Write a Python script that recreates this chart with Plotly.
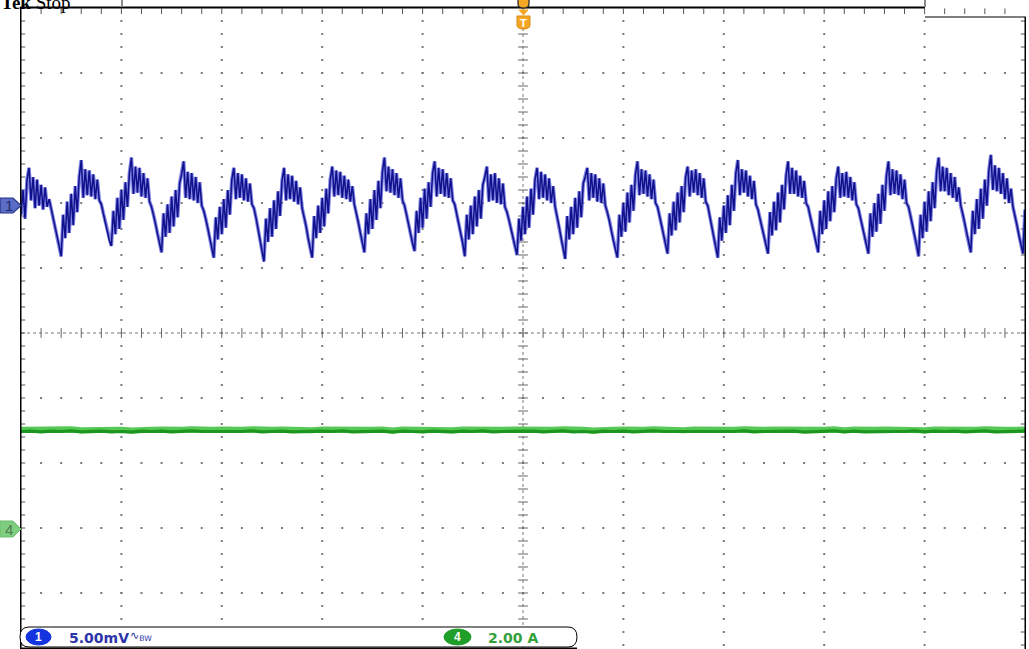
import numpy as np
import plotly.graph_objects as go

# ---------------- figure geometry ----------------
W, H = 1029, 649
ML, MR, MT, MB = 21, 4, 8, 0
PW, PH = W - ML - MR, H - MT - MB
PX_PER_YDIV = 65.0
X_RANGE = [0.0, 10.0]
Y_TOP = 5.0
Y_BOT = Y_TOP - PH / PX_PER_YDIV

# ---------------- channel settings ----------------
CH1_SCALE_MV = 5.00      # mV / div
CH1_OFFSET_DIV = 2.0     # ground marker position (div above centre)
CH4_SCALE_A = 2.00       # A / div
CH4_OFFSET_DIV = -3.0
CH1_DT_DIV = 0.02        # sample interval (div)
CH4_DT_DIV = 0.1

# ---------------- data ----------------
# Channel 1 ripple voltage, mV
ch1_mv = [
    -0.9, 1.0, -1.2, 1.8, 2.7, 0.2, 2.0, -0.4, 1.8, -0.2, 1.4, -0.5, 1.2, -0.3, 0.3, -0.4, -1.0, -1.7, -2.5, -3.3,
    -4.1, -0.9, -2.7, 0.1, -2.3, 0.7, -1.7, 1.3, -0.7, 2.0, 3.3, 0.4, 2.6, 0.6, 2.5, 0.5, 2.2, 0.3, 1.8, 0.2, -0.1, -0.8, -1.5, -2.2, -2.9,
    -3.3, -0.6, -2.4, 0.4, -2.0, 1.0, -1.3, 1.6, -0.3, 2.3, 3.5, 0.7, 2.8, 0.8, 2.7, 0.5, 2.3, 0.4, 1.9, 0.1, -0.3, -0.9, -1.6, -2.4, -3.0,
    -3.8, -0.8, -2.6, -0.1, -2.3, 0.5, -1.8, 1.0, -1.1, 1.5, 2.2, 3.2, 0.4, 2.4, 0.3, 2.3, 0.2, 2.0, 0.0, 1.6, -0.2, -0.6, -1.2, -1.9, -2.7, -3.4,
    -4.2, -1.1, -2.8, -0.3, -2.4, 0.3, -1.9, 1.0, -0.9, 1.8, 2.7, 0.3, 2.3, 0.4, 2.2, 0.2, 1.9, 0.1, 1.5, -0.1, -0.4, -1.1, -1.9, -2.8, -3.6,
    -4.5, -1.2, -3.0, -0.4, -2.6, 0.2, -2.0, 0.9, -1.0, 1.7, 2.7, 0.2, 2.2, 0.3, 2.1, 0.1, 1.7, -0.1, 1.2, -0.4, -1.0, -1.8, -2.7, -3.5,
    -4.2, -1.0, -2.7, -0.2, -2.3, 0.4, -1.8, 1.1, -0.8, 1.8, 2.8, 0.5, 2.5, 0.6, 2.4, 0.4, 2.1, 0.3, 1.8, 0.1, 1.3, -0.1, -0.7, -1.5, -2.3, -3.1,
    -3.8, -0.8, -2.4, 0.3, -2.0, 1.0, -1.3, 1.7, -0.4, 2.4, 3.5, 0.9, 2.8, 0.8, 2.6, 0.6, 2.3, 0.4, 1.9, 0.2, -0.2, -0.9, -1.7, -2.4, -3.1,
    -3.7, -0.6, -2.3, 0.4, -1.9, 1.1, -1.2, 1.6, -0.3, 2.3, 3.2, 0.5, 2.7, 0.7, 2.6, 0.5, 2.3, 0.4, 1.9, 0.2, -0.1, -0.8, -1.6, -2.3, -3.1,
    -4.1, -0.9, -2.8, -0.2, -2.4, 0.5, -1.8, 1.0, -1.2, 1.4, 2.0, 2.8, 0.1, 2.2, 0.2, 2.3, 0.0, 1.9, -0.1, 1.5, -0.3, -0.7, -1.3, -2.0, -2.8, -3.4,
    -4.0, -1.2, -2.9, -0.3, -2.4, 0.5, -1.9, 1.1, -0.9, 1.8, 2.7, 0.3, 2.4, 0.4, 2.2, 0.2, 1.9, 0.0, 1.3, -0.3, -1.0, -1.8, -2.7, -3.5,
    -4.3, -1.0, -2.8, -0.3, -2.4, 0.4, -1.9, 0.9, -1.1, 1.5, 2.0, 2.7, 0.2, 2.3, 0.4, 2.2, 0.1, 1.9, 0.0, 1.5, -0.2, -0.7, -1.3, -2.1, -2.9, -3.6,
    -4.2, -0.9, -2.6, 0.0, -2.2, 0.8, -1.5, 1.4, -0.6, 2.2, 3.2, 0.6, 2.6, 0.7, 2.5, 0.5, 2.2, 0.3, 1.8, 0.0, -0.3, -1.0, -1.7, -2.5, -3.2,
    -3.9, -0.8, -2.5, 0.1, -2.1, 0.8, -1.5, 1.3, -0.7, 2.0, 2.8, 0.5, 2.5, 0.8, 2.6, 0.6, 2.3, 0.4, 1.9, 0.1, -0.2, -1.0, -1.7, -2.6, -3.4,
    -4.2, -1.1, -2.9, -0.2, -2.3, 0.6, -1.7, 1.4, -0.6, 2.3, 3.3, 0.6, 2.6, 0.8, 2.5, 0.5, 2.1, 0.3, 1.7, -0.1, -0.5, -1.2, -1.9, -2.7, -3.3,
    -3.9, -0.7, -2.5, 0.1, -2.1, 0.8, -1.5, 1.4, -0.5, 2.1, 3.2, 0.7, 2.7, 0.7, 2.5, 0.5, 2.1, 0.4, 1.7, 0.0, -0.3, -1.0, -1.6, -2.4, -3.1,
    -3.8, -0.6, -2.4, 0.2, -2.0, 0.9, -1.4, 1.3, -0.7, 1.9, 2.8, 0.4, 2.3, 0.5, 2.4, 0.4, 2.0, 0.2, 1.6, -0.1, -0.4, -1.1, -1.8, -2.6, -3.2,
    -3.9, -0.8, -2.6, 0.0, -2.2, 0.7, -1.6, 1.4, -0.6, 2.1, 3.2, 0.6, 2.6, 0.7, 2.5, 0.6, 2.2, 0.3, 1.8, 0.0, -0.3, -1.0, -1.7, -2.5, -3.2,
    -4.1, -0.9, -2.7, 0.1, -2.2, 0.9, -1.4, 1.6, -0.4, 2.4, 3.5, 0.9, 2.8, 0.9, 2.7, 0.6, 2.3, 0.4, 2.0, 0.1, 1.2, -0.2, -0.8, -1.6, -2.4, -3.1,
    -3.8, -0.6, -2.4, 0.3, -2.0, 1.1, -1.2, 1.8, -0.2, 2.5, 3.7, 1.0, 2.9, 0.9, 2.7, 0.7, 2.3, 0.3, 1.9, 0.0, 1.1, -0.3, -0.9, -1.7, -2.5, -3.3,
    -3.9, -0.5,
]

# Channel 4 current, A
ch4_amp = [
    3.02, 3.03, 3.01, 3.03, 3.02, 3.04, 3.01, 3.02, 3.03, 3.01,
    3.02, 3.00, 3.03, 3.02, 3.03, 3.01, 3.02, 3.04, 3.02, 3.02,
    3.03, 3.01, 3.02, 3.04, 3.01, 3.02, 3.03, 3.01, 3.02, 3.01,
    3.03, 3.02, 3.04, 3.01, 3.02, 3.02, 3.03, 3.00, 3.03, 3.02,
    3.01, 3.03, 3.02, 3.01, 3.03, 3.02, 3.04, 3.01, 3.02, 3.03,
    3.02, 3.03, 3.01, 3.02, 3.04, 3.01, 3.02, 3.00, 3.03, 3.02,
    3.03, 3.01, 3.02, 3.04, 3.02, 3.02, 3.01, 3.03, 3.02, 3.03,
    3.01, 3.02, 3.04, 3.01, 3.02, 3.03, 3.02, 3.03, 3.00, 3.02,
    3.02, 3.04, 3.01, 3.03, 3.01, 3.02, 3.03, 3.02, 3.02, 3.04,
    3.01, 3.03, 3.02, 3.03, 3.01, 3.02, 3.04, 3.01, 3.02, 3.02, 3.03,
]

status_labels = ["5.00mV", "2.00 A"]
channel_names = ["1", "4"]

# ---------------- helpers ----------------
def px(x):
    return (x - ML) / PW

def py(y):
    return (H - MB - y) / PH

def prect(x0, y0, x1, y1, fill):
    return dict(type="rect", xref="paper", yref="paper", x0=px(x0), y0=py(y1),
                x1=px(x1), y1=py(y0), fillcolor=fill, line=dict(width=0), layer="above")

def ppath(segments, fill, line_color, line_width=1):
    parts = []
    for cmd, pts in segments:
        parts.append(cmd + " " + " ".join(f"{px(a):.5f},{py(b):.5f}" for a, b in pts))
    s = " ".join(parts) + " Z"
    return dict(type="path", xref="paper", yref="paper", path=s,
                fillcolor=fill, line=dict(color=line_color, width=line_width), layer="above")

def poly(points, fill, line_color, line_width=1):
    segs = [("M", [points[0]])] + [("L", [p]) for p in points[1:]]
    return ppath(segs, fill, line_color, line_width)

# ---------------- traces ----------------
fig = go.Figure()

# graticule dots
maj_x = [1, 2, 3, 4, 6, 7, 8, 9]
maj_y = [-4, -3, -2, -1, 1, 2, 3, 4]
minor_y = np.round(np.arange(-24, 25) * 0.2, 3)
minor_x = np.round(np.arange(1, 50) * 0.2, 3)
gx = [mx for mx in maj_x for yy in minor_y] + [xx for my in maj_y for xx in minor_x]
gy = [yy for mx in maj_x for yy in minor_y] + [my for my in maj_y for xx in minor_x]
fig.add_trace(go.Scatter(x=gx, y=gy, mode="markers", hoverinfo="skip",
                         marker=dict(symbol="square", size=2, color="#7a7a7a", line=dict(width=0))))

# centre-line ticks
fig.add_trace(go.Scatter(x=[5.0] * len(minor_y), y=minor_y, mode="markers", hoverinfo="skip",
                         marker=dict(symbol="line-ew", size=7, line=dict(width=1, color="#666"))))
fig.add_trace(go.Scatter(x=minor_x, y=[0.0] * len(minor_x), mode="markers", hoverinfo="skip",
                         marker=dict(symbol="line-ns", size=7, line=dict(width=1, color="#666"))))
# edge ticks
fig.add_trace(go.Scatter(x=[0.0] * len(minor_y) + [10.0] * len(minor_y), y=list(minor_y) * 2,
                         mode="markers", hoverinfo="skip",
                         marker=dict(symbol="line-ew", size=6, line=dict(width=1, color="#555"))))
fig.add_trace(go.Scatter(x=minor_x, y=[Y_TOP - 0.05] * len(minor_x), mode="markers", hoverinfo="skip",
                         marker=dict(symbol="line-ns", size=4, line=dict(width=1, color="#555"))))

# channel 1
t1 = np.arange(len(ch1_mv)) * CH1_DT_DIV
y1 = [CH1_OFFSET_DIV + v / CH1_SCALE_MV for v in ch1_mv]
fig.add_trace(go.Scatter(x=t1, y=y1, mode="lines", hoverinfo="skip",
                         line=dict(color="rgba(95,100,220,0.8)", width=3.6)))
fig.add_trace(go.Scatter(x=t1, y=y1, mode="lines", name="Ch1",
                         line=dict(color="#10108a", width=1.5)))

# channel 4
t4 = np.arange(len(ch4_amp)) * CH4_DT_DIV
y4 = [CH4_OFFSET_DIV + v / CH4_SCALE_A for v in ch4_amp]
fig.add_trace(go.Scatter(x=t4, y=y4, mode="lines", hoverinfo="skip",
                         line=dict(color="#55c855", width=6)))
fig.add_trace(go.Scatter(x=t4, y=[v - 0.025 for v in y4], mode="lines", name="Ch4",
                         line=dict(color="#1c961c", width=3.2)))

# ---------------- shapes ----------------
shapes = []
# centre crosshair
shapes.append(dict(type="line", xref="x", yref="paper", x0=5, x1=5, y0=0, y1=1,
                   line=dict(color="#777", width=1, dash="dot"), layer="below"))
shapes.append(dict(type="line", xref="paper", yref="y", x0=0, x1=1, y0=0, y1=0,
                   line=dict(color="#777", width=1, dash="dot"), layer="below"))
# frame
shapes.append(prect(20, 6.5, 925, 8.5, "black"))
shapes.append(prect(121, 0, 123, 7, "#8a8a8a"))
shapes.append(prect(924, 0, 926, 7, "#8a8a8a"))
shapes.append(prect(925, 16.5, 1026, 17.5, "black"))
shapes.append(prect(20, 7, 21.5, 649, "black"))
shapes.append(prect(1024.5, 17, 1026, 649, "black"))

# trigger markers
shapes.append(ppath([("M", [(518, -2)]), ("L", [(529, -2)]), ("L", [(529, 4)]),
                     ("Q", [(529, 8), (523.5, 8)]), ("Q", [(518, 8), (518, 4)])],
                    "#f5a623", "#222", 1.2))
shapes.append(poly([(519, 10), (528, 10), (523.5, 15)], "#f5a623", "#f5a623", 1))
shapes.append(ppath([("M", [(517, 16)]), ("L", [(530, 16)]), ("L", [(530, 25)]),
                     ("Q", [(530, 29), (523.5, 29)]), ("Q", [(517, 29), (517, 25)])],
                    "#f5a623", "#d68a10", 1))

# channel ground markers
shapes.append(poly([(0, 198), (13, 198), (21, 205.5), (13, 213), (0, 213)],
                   "#5b6cc4", "#26358a", 1.2))
shapes.append(poly([(0, 521), (13, 521), (21, 529), (13, 537), (0, 537)],
                   "#7fcd7f", "#6bbd6b", 1))

# status bar
shapes.append(ppath([("M", [(29, 627)]), ("L", [(568, 627)]), ("Q", [(577, 627), (577, 637)]),
                     ("Q", [(577, 647), (568, 647)]), ("L", [(29, 647)]),
                     ("Q", [(20, 647), (20, 637)]), ("Q", [(20, 627), (29, 627)])],
                    "white", "black", 1))
shapes.append(prect(20, 647.5, 577, 649, "black"))
shapes.append(dict(type="circle", xref="paper", yref="paper", x0=px(26), x1=px(51),
                   y0=py(645), y1=py(629), fillcolor="#1434e0", line=dict(color="#1434e0", width=1)))
shapes.append(dict(type="circle", xref="paper", yref="paper", x0=px(444), x1=px(471),
                   y0=py(645), y1=py(629), fillcolor="#1f9e2a", line=dict(color="#1f9e2a", width=1)))

# ---------------- annotations ----------------
ann = []
def txt(x, y, s, size, color, xanchor="center", yanchor="middle", family="DejaVu Sans"):
    ann.append(dict(x=px(x), y=py(y), xref="paper", yref="paper", text=s, showarrow=False,
                    xanchor=xanchor, yanchor=yanchor,
                    font=dict(size=size, color=color, family=family)))

txt(-1, 15, "<b>Tek</b> Stop", 19, "black", xanchor="left", yanchor="bottom", family="Liberation Serif")
txt(523.5, 22.5, "<b>T</b>", 11, "white", family="Liberation Sans")
txt(8.5, 205.5, "1", 15, "#1d2a6a", family="Liberation Sans")
txt(8.5, 529.5, "4", 15, "#4f7f4f", family="Liberation Sans")
txt(38.5, 637, "<b>" + channel_names[0] + "</b>", 12, "white", family="Liberation Sans")
txt(457.5, 637, "<b>" + channel_names[1] + "</b>", 12, "white", family="Liberation Sans")
txt(67, 637.5, "<b>" + status_labels[0] + "</b>", 14, "#2b34a8", xanchor="left", family="DejaVu Sans")
txt(128, 636, "∿<sub>BW</sub>", 11, "#2b34a8", xanchor="left", family="DejaVu Sans")
txt(486, 637.5, "<b>" + status_labels[1] + "</b>", 14, "#34a03a", xanchor="left", family="DejaVu Sans")

fig.update_layout(
    width=W, height=H,
    margin=dict(l=ML, r=MR, t=MT, b=MB, pad=0),
    paper_bgcolor="white", plot_bgcolor="white",
    showlegend=False,
    shapes=shapes, annotations=ann,
    xaxis=dict(range=X_RANGE, showgrid=False, zeroline=False, showticklabels=False,
               ticks="", showline=False, fixedrange=True),
    yaxis=dict(range=[Y_BOT, Y_TOP], showgrid=False, zeroline=False, showticklabels=False,
               ticks="", showline=False, fixedrange=True),
)

fig.write_html(
    "out.html",
    config={"displayModeBar": False, "staticPlot": True},
    post_script="document.body.style.margin='0';document.body.style.padding='0';"
                "document.body.style.overflow='hidden';",
)
